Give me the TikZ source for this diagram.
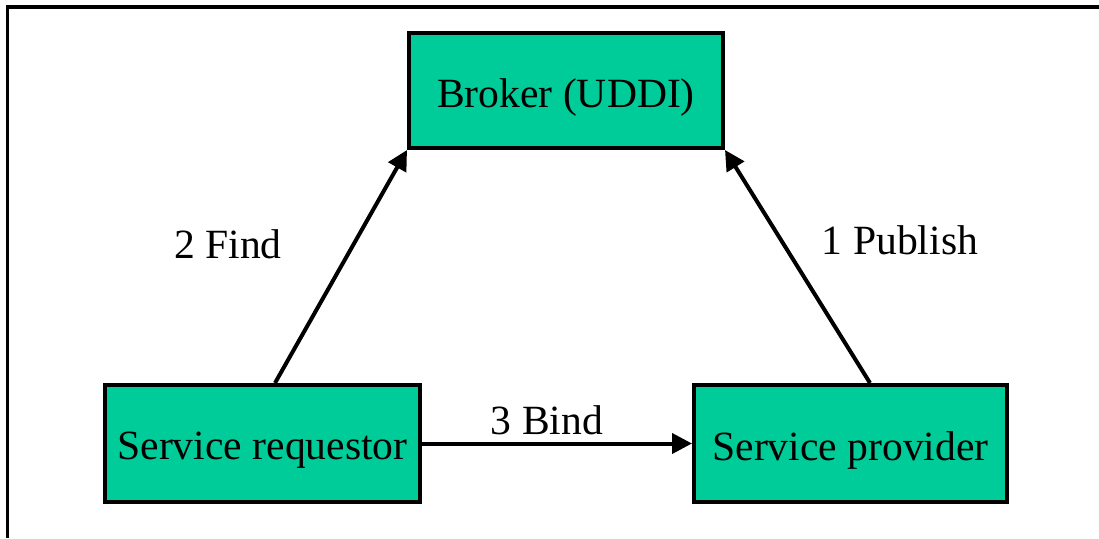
\documentclass[tikz,border=0pt]{standalone}
\usepackage{fontspec}
\setmainfont{Liberation Serif}
\usetikzlibrary{arrows.meta}
\definecolor{boxgreen}{HTML}{00CC99}
\newcommand{\lowertext}[1]{\raisebox{-7pt}[\height][\depth]{#1}}
\begin{document}
\begin{tikzpicture}[x=1pt,y=-1pt,
  box/.style={draw=black, line width=4pt, fill=boxgreen, inner sep=0pt,
    font=\fontsize{41.6}{50}\selectfont},
  conn/.style={line width=4pt, -{Triangle[length=20pt,width=20pt]}},
  lbl/.style={font=\fontsize{41.6}{50}\selectfont, inner sep=0pt}]
\useasboundingbox (0,0) rectangle (1099,538);
\draw[line width=3.5pt] (7.5,538) -- (7.5,7) -- (1099,7);
\node[box, minimum width=314pt, minimum height=115pt] (broker) at (566,90.5) {\lowertext{Broker (UDDI)}};
\node[box, minimum width=315pt, minimum height=117pt] (req) at (262.5,443.5) {\lowertext{Service requestor}};
\node[box, minimum width=313pt, minimum height=117pt] (prov) at (850.5,443.5) {\lowertext{Service provider}};
\draw[conn] ([xshift=12.5pt]req.north) -- (broker.south west);
\draw[conn] ([xshift=19.5pt]prov.north) -- (broker.south east);
\draw[conn] (req.east) -- (prov.west);
\node[lbl] (find) at (228,244) {2 Find};
\node[lbl] (publish) at (900,240) {1 Publish};
\node[lbl] (bind) at (547,420) {3 Bind};
\end{tikzpicture}
\end{document}
